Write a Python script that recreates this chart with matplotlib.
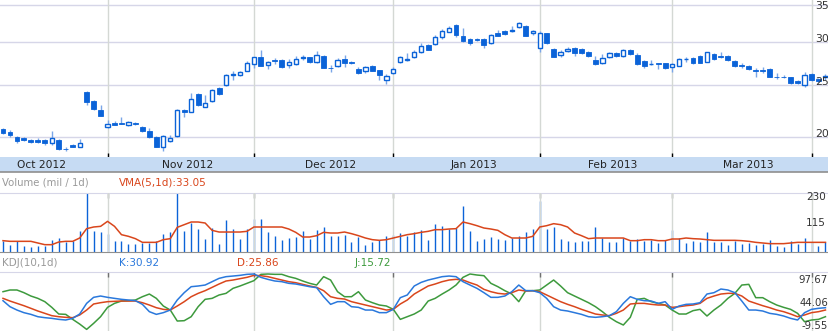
import matplotlib.pyplot as plt
import matplotlib.transforms as mtransforms
import numpy as np

# trading-day index of the first session of each month (Oct 2012 .. Apr 2013)
month_starts = [-6, 15, 36, 56, 77, 96, 116]
month_labels = ['Oct 2012', 'Nov 2012', 'Dec 2012', 'Jan 2013', 'Feb 2013', 'Mar 2013']

opens = [20.72, 20.49, 20.03, 19.97, 19.80, 19.80, 19.75, 19.50, 19.77, 19.07,
         19.39, 19.22, 24.25, 23.34, 22.45, 20.87, 21.28, 21.25, 21.11, 21.25,
         20.93, 20.55, 20.03, 19.17, 19.69, 20.12, 22.45, 22.32, 24.04, 22.77,
         23.30, 24.66, 24.94, 26.02, 26.02, 26.54, 27.26, 28.08, 27.14, 27.72,
         27.76, 27.14, 27.26, 28.00, 28.08, 27.57, 28.28, 26.87, 27.03, 27.84,
         27.57, 26.72, 26.54, 27.03, 26.57, 25.55, 26.24, 27.49, 27.76, 28.08,
         28.68, 29.54, 29.67, 30.65, 31.30, 32.20, 30.69, 30.30, 30.30, 30.34,
         29.79, 31.17, 31.39, 31.44, 31.88, 32.06, 31.08, 29.17, 31.08, 29.09,
         28.32, 28.80, 29.17, 29.05, 28.72, 27.76, 27.37, 28.08, 28.64, 28.28,
         28.96, 28.36, 27.61, 27.26, 27.45, 27.37, 26.91, 27.10, 27.88, 27.96,
         28.24, 27.57, 28.48, 28.20, 28.28, 27.61, 27.14, 27.10, 26.65, 26.65,
         26.72, 25.88, 25.88, 25.80, 25.37, 24.94, 26.13, 25.60, 25.80]
highs = [20.84, 20.63, 20.12, 20.06, 19.89, 19.94, 19.83, 20.55, 19.83, 19.22,
         19.44, 19.83, 24.38, 23.44, 22.94, 21.52, 21.46, 21.77, 21.46, 21.35,
         20.99, 20.78, 20.12, 20.20, 20.17, 22.58, 22.58, 24.11, 24.11, 23.93,
         24.59, 24.73, 26.17, 26.54, 26.54, 27.61, 28.16, 28.96, 27.64, 28.04,
         27.84, 27.92, 28.24, 28.36, 28.16, 28.84, 28.36, 27.14, 27.96, 28.36,
         27.68, 26.91, 27.06, 27.22, 26.65, 26.17, 26.99, 28.24, 28.56, 28.96,
         29.79, 29.67, 30.82, 31.61, 32.06, 32.29, 31.79, 30.43, 30.43, 30.43,
         30.99, 31.57, 31.57, 32.02, 32.61, 32.15, 31.53, 31.44, 31.17, 29.21,
         28.96, 29.29, 29.29, 29.21, 28.84, 28.24, 28.44, 28.68, 28.76, 29.09,
         29.09, 28.64, 27.76, 27.76, 27.47, 27.45, 27.37, 28.00, 28.08, 28.16,
         28.32, 28.76, 28.56, 28.68, 28.36, 27.72, 27.45, 27.18, 26.84, 26.91,
         26.80, 26.24, 26.02, 25.88, 25.51, 26.39, 26.24, 25.75, 26.17]
lows = [20.29, 20.06, 19.50, 19.66, 19.50, 19.50, 19.39, 19.39, 18.96, 18.88,
        19.17, 19.17, 22.90, 22.51, 21.89, 20.81, 21.05, 21.14, 20.99, 21.11,
        20.46, 19.94, 19.17, 18.91, 19.61, 20.00, 21.77, 22.26, 22.84, 22.71,
        23.23, 23.93, 24.87, 25.51, 25.95, 26.46, 26.80, 27.03, 26.69, 27.30,
        26.87, 26.87, 27.14, 27.76, 27.45, 27.45, 26.80, 26.35, 26.95, 26.99,
        27.26, 26.20, 26.28, 26.46, 25.55, 25.11, 26.13, 27.37, 27.68, 28.00,
        28.56, 28.96, 29.58, 30.39, 31.21, 30.65, 29.96, 29.62, 30.05, 29.25,
        29.71, 30.73, 30.91, 31.26, 31.79, 30.73, 30.91, 28.76, 29.71, 28.08,
        28.08, 28.72, 28.28, 28.44, 28.16, 27.18, 27.30, 28.00, 28.16, 28.16,
        28.40, 27.22, 26.87, 27.14, 26.72, 26.76, 26.39, 27.03, 27.53, 27.26,
        27.37, 27.49, 27.76, 28.00, 27.68, 26.99, 26.87, 26.61, 25.88, 26.28,
        25.80, 25.66, 25.70, 25.08, 25.08, 24.80, 25.40, 25.30, 25.51]
closes = [20.41, 20.20, 19.69, 19.75, 19.58, 19.58, 19.50, 19.97, 19.01, 19.03,
          19.22, 19.55, 23.26, 22.58, 21.92, 21.17, 21.11, 21.19, 21.35, 21.17,
          20.52, 20.00, 19.22, 20.12, 19.97, 22.45, 22.23, 23.57, 22.94, 23.10,
          24.45, 24.00, 26.02, 26.13, 26.39, 27.45, 28.08, 27.10, 27.49, 27.68,
          26.99, 27.53, 27.84, 28.12, 27.53, 28.32, 26.87, 26.80, 27.72, 27.45,
          27.37, 26.28, 26.99, 26.54, 26.09, 25.91, 26.69, 28.08, 27.84, 28.76,
          29.46, 29.00, 30.65, 31.44, 31.75, 30.86, 30.09, 29.84, 30.17, 29.62,
          30.86, 30.78, 31.04, 31.53, 32.52, 30.78, 31.39, 31.08, 29.79, 28.16,
          28.76, 29.09, 28.64, 28.56, 28.24, 27.30, 27.96, 28.60, 28.28, 28.96,
          28.48, 27.30, 27.10, 27.30, 27.33, 26.87, 27.26, 27.84, 27.92, 27.45,
          27.45, 28.68, 27.84, 28.08, 27.76, 27.10, 27.03, 26.69, 26.50, 26.50,
          25.88, 25.80, 25.80, 25.15, 25.15, 26.09, 25.51, 25.40, 25.95]

volume = [47.2, 32.4, 47.2, 28.0, 22.1, 28.0, 28.0, 54.5, 61.9, 42.7,
          47.2, 94.3, 300.0, 91.4, 87.0, 80.0, 47.2, 47.2, 36.9, 36.9,
          39.8, 39.8, 50.1, 81.1, 87.0, 290.0, 94.3, 128.2, 101.7, 57.5,
          106.1, 36.9, 143.0, 101.7, 59.0, 103.2, 147.4, 145.9, 87.0, 72.2,
          54.5, 61.9, 64.9, 91.4, 57.5, 95.8, 109.1, 69.3, 72.2, 76.6,
          42.7, 66.3, 32.4, 42.7, 51.6, 69.3, 73.7, 84.0, 69.3, 87.0,
          98.8, 54.5, 123.8, 113.5, 103.2, 106.1, 204.9, 91.4, 50.1, 59.0,
          66.3, 59.0, 51.6, 61.9, 72.2, 87.0, 103.2, 224.0, 101.7, 109.1,
          57.5, 47.2, 42.7, 47.2, 50.1, 110.6, 61.9, 42.7, 42.7, 61.9,
          50.1, 59.0, 47.2, 54.5, 39.8, 51.6, 98.8, 61.9, 39.8, 50.1,
          42.7, 89.9, 42.7, 42.7, 32.4, 47.2, 35.4, 39.8, 32.4, 36.9,
          53.1, 28.0, 22.1, 47.2, 35.4, 61.9, 42.7, 28.0, 42.7]
vma = [50.1, 47.2, 47.2, 47.2, 47.2, 39.8, 32.4, 32.4, 44.2, 47.2,
       47.2, 61.9, 103.2, 110.6, 113.5, 135.6, 113.5, 76.6, 69.3, 59.0,
       42.7, 42.7, 42.7, 54.5, 59.0, 109.1, 120.9, 132.7, 132.7, 128.2,
       95.8, 88.4, 88.4, 88.4, 88.4, 91.4, 110.6, 110.6, 110.6, 110.6,
       110.6, 101.7, 87.0, 66.3, 66.3, 72.2, 87.0, 84.0, 84.0, 88.4,
       81.1, 72.2, 61.9, 54.5, 51.6, 54.5, 61.9, 69.3, 76.6, 81.1,
       87.0, 91.4, 98.8, 98.8, 101.7, 103.2, 132.7, 125.3, 116.4, 106.1,
       101.7, 95.8, 76.6, 61.9, 61.9, 61.9, 69.3, 110.6, 116.4, 125.3,
       120.9, 110.6, 84.0, 72.2, 59.0, 61.9, 61.9, 61.9, 61.9, 61.9,
       50.1, 50.1, 54.5, 54.5, 50.1, 50.1, 57.5, 57.5, 61.9, 59.0,
       57.5, 54.5, 51.6, 51.6, 51.6, 51.6, 50.1, 47.2, 42.7, 39.8,
       36.9, 36.9, 36.9, 39.8, 42.7, 42.7, 42.7, 42.7, 42.7]

k_line = [56.6, 42.5, 34.6, 28.4, 24.4, 18.9, 16.6, 15.0, 12.6, 11.1,
          15.0, 25.2, 50.3, 64.5, 67.6, 64.5, 62.1, 59.8, 58.2, 56.6,
          48.0, 30.7, 24.4, 28.4, 34.6, 58.2, 75.5, 89.6, 91.2, 93.5,
          101.4, 109.2, 113.2, 114.7, 116.3, 118.7, 119.5, 111.6, 106.9, 103.0,
          101.4, 97.5, 95.9, 92.8, 89.6, 87.3, 66.0, 48.0, 54.3, 54.3,
          42.5, 40.9, 34.6, 34.6, 28.4, 28.4, 36.2, 63.7, 70.0, 91.2,
          99.8, 105.3, 109.2, 113.2, 114.7, 113.2, 101.4, 93.5, 85.7, 75.5,
          64.5, 64.5, 67.6, 77.8, 93.5, 80.2, 80.2, 75.5, 62.1, 42.5,
          34.6, 32.3, 28.4, 24.4, 18.9, 17.4, 18.9, 21.3, 30.7, 50.3,
          66.0, 59.8, 56.6, 55.8, 50.3, 54.3, 36.2, 44.1, 48.0, 48.8,
          51.9, 72.3, 75.5, 84.1, 81.8, 75.5, 55.8, 34.6, 34.6, 32.3,
          26.8, 24.4, 20.5, 15.0, 11.1, 28.4, 36.2, 38.6, 40.1]
d_line = [62.1, 55.8, 50.3, 44.8, 38.6, 32.3, 26.8, 21.3, 18.9, 17.4,
          16.6, 22.9, 34.6, 48.8, 51.9, 54.3, 55.1, 55.8, 55.8, 55.8,
          51.9, 46.4, 40.1, 36.2, 34.6, 44.1, 54.3, 66.0, 73.9, 80.2,
          88.0, 95.9, 103.0, 105.3, 108.5, 111.6, 116.3, 115.5, 113.2, 109.2,
          105.3, 101.4, 99.0, 95.1, 91.2, 88.0, 80.2, 66.0, 62.1, 60.5,
          54.3, 50.3, 46.4, 42.5, 38.6, 34.6, 36.2, 48.8, 58.2, 72.3,
          81.8, 91.2, 95.9, 101.4, 105.3, 106.9, 105.3, 99.0, 93.5, 83.3,
          77.8, 73.9, 72.3, 75.5, 81.8, 79.4, 80.2, 77.8, 70.0, 62.1,
          54.3, 48.0, 42.5, 36.2, 30.7, 25.2, 22.9, 21.3, 26.8, 34.6,
          48.8, 50.3, 50.3, 48.0, 46.4, 46.4, 40.9, 42.5, 44.8, 46.4,
          50.3, 62.1, 67.6, 72.3, 73.9, 73.9, 67.6, 55.8, 50.3, 44.8,
          40.1, 34.6, 30.7, 25.2, 18.9, 22.9, 28.4, 30.7, 34.6]
j_line = [77.8, 81.8, 81.8, 75.5, 67.6, 62.1, 54.3, 40.9, 25.2, 24.4,
          12.6, 1.6, -11.0, 3.2, 18.9, 40.9, 50.3, 55.8, 56.6, 58.2,
          66.0, 72.3, 62.1, 44.1, 34.6, 8.7, 9.5, 18.9, 42.5, 59.8,
          62.1, 70.0, 73.9, 85.7, 91.2, 97.5, 103.8, 118.7, 119.5, 118.7,
          118.7, 113.2, 109.2, 103.0, 97.5, 93.5, 113.2, 105.3, 77.8, 66.0,
          66.0, 77.8, 58.2, 51.9, 46.4, 44.1, 36.2, 12.6, 18.9, 25.2,
          34.6, 55.8, 62.1, 72.3, 81.8, 93.5, 111.6, 119.5, 117.1, 115.5,
          97.5, 89.6, 80.2, 72.3, 54.3, 80.2, 80.2, 81.8, 93.5, 105.3,
          91.2, 75.5, 67.6, 59.8, 51.9, 42.5, 30.7, 17.4, 7.1, -0.7,
          17.4, 59.8, 62.1, 54.3, 50.3, 46.4, 34.6, 25.2, 25.2, 33.1,
          36.2, 20.5, 34.6, 46.4, 62.1, 73.9, 93.5, 95.1, 63.7, 63.7,
          54.3, 46.4, 40.9, 36.2, 26.8, 7.1, 11.1, 12.6, 18.9]

price_ticks = [20, 25, 30, 35]
vol_ticks = [115, 230]
kdj_ticks = [97.67, 44.06, -9.55]

BLUE = '#0b63d8'
WICK = '#7aa6e8'
RED = '#d9461c'
GREEN = '#3d9a3d'
GRID_H = '#d6d6e8'
GRID_V = '#d4d8d4'

W, H = 829, 331
fig = plt.figure(figsize=(W / 100, H / 100), dpi=100)


def add_ax(top, bottom):
    return fig.add_axes([0, 1 - bottom / H, 1, (bottom - top) / H])


x = np.arange(len(opens))
o = np.array(opens)
h = np.array(highs)
l = np.array(lows)
c = np.array(closes)
up = c >= o
xlim = (-3 / 6.97, 826 / 6.97)
bounds = [m for m in month_starts if xlim[0] < m < xlim[1]]

# price panel
ax = add_ax(0, 157)
ax.set_yscale('log')
ax.set_xlim(xlim)
ax.set_ylim(18.41, 35.8)
for v in price_ticks:
    ax.axhline(v, color=GRID_H, lw=1, zorder=0)
for m in bounds:
    ax.axvline(m, color=GRID_V, lw=1, zorder=0)
ax.vlines(x, l, h, color=WICK, lw=1, zorder=2)
ax.bar(x[~up], (o - c)[~up], bottom=c[~up], width=0.7, color=BLUE,
       edgecolor=BLUE, lw=0.6, zorder=3)
ax.bar(x[up], (c - o)[up], bottom=o[up], width=0.62, facecolor='white',
       edgecolor=BLUE, lw=1.0, zorder=3)
ax.set_xticks(bounds)
ax.yaxis.set_major_locator(plt.NullLocator())
ax.yaxis.set_minor_locator(plt.NullLocator())
ax.tick_params(axis='x', direction='in', length=3, width=1, color='black',
               labelbottom=False, pad=0)
for s in ax.spines.values():
    s.set_visible(False)
ytrans = ax.get_yaxis_transform()
for v in price_ticks:
    # the top label would be clipped at the figure edge, nudge it down a bit
    tr = ytrans if v < 35 else mtransforms.offset_copy(ytrans, fig=fig, y=-3.5, units='dots')
    ax.text(815 / W, v, str(v), transform=tr,
            fontsize=7.8, color='#333333', va='baseline', ha='left', zorder=5)

# month band
band = add_ax(157, 172)
band.set_facecolor('#c6dbf3')
band.set_xlim(xlim)
band.set_ylim(0, 1)
band.set_xticks([])
band.set_yticks([])
for s in ['top', 'left', 'right']:
    band.spines[s].set_visible(False)
band.spines['bottom'].set_color('#8f8f8f')
band.spines['bottom'].set_linewidth(1.2)
for i, name in enumerate(month_labels):
    mid = (month_starts[i] + month_starts[i + 1]) / 2 + 1
    band.text(mid, 0.5, name, ha='center', va='center', fontsize=7.7,
              color='#222222')

# volume panel
fig.text(2 / W, 1 - 183 / H, 'Volume (mil / 1d)', fontsize=7.3,
         color='#9a9a9a', va='center')
fig.text(119 / W, 1 - 183 / H, 'VMA(5,1d):33.05', fontsize=7.5, color=RED,
         va='center')
axv = add_ax(193, 252)
axv.set_xlim(xlim)
axv.set_ylim(0, 261)
for m in bounds:
    axv.axvline(m, color=GRID_V, lw=1, zorder=3)
axv.vlines(x, 0, volume, color=BLUE, lw=1, zorder=2)
axv.plot(x, vma, color=RED, lw=1.1, zorder=4)
axv.set_xticks(bounds)
axv.set_yticks([])
axv.xaxis.set_ticks_position('top')
axv.tick_params(axis='x', direction='in', length=3.5, width=1, color='#707070',
                labeltop=False, labelbottom=False)
axv.spines['left'].set_visible(False)
axv.spines['right'].set_visible(False)
axv.spines['top'].set_color(GRID_H)
axv.spines['bottom'].set_color('#8f8f8f')
for v in vol_ticks:
    axv.text(826 / W, v, str(v), transform=axv.get_yaxis_transform(),
             fontsize=7.5, color='#333333', va='baseline', ha='right', zorder=5)

# KDJ panel
fig.text(2 / W, 1 - 262.5 / H, 'KDJ(10,1d)', fontsize=7.5, color='#9a9a9a',
         va='center')
fig.text(119 / W, 1 - 262.5 / H, 'K:30.92', fontsize=7.5, color='#2a78dc',
         va='center')
fig.text(237 / W, 1 - 262.5 / H, 'D:25.86', fontsize=7.5, color=RED,
         va='center')
fig.text(355 / W, 1 - 262.5 / H, 'J:15.72', fontsize=7.5, color=GREEN,
         va='center')
axk = add_ax(272, 331)
axk.set_xlim(xlim)
axk.set_ylim(-14.8, 124.2)
for m in bounds:
    axk.axvline(m, color=GRID_V, lw=1, zorder=1)
axk.plot(x, j_line, color=GREEN, lw=1.1, zorder=2)
axk.plot(x, d_line, color=RED, lw=1.1, zorder=3)
axk.plot(x, k_line, color='#2a78dc', lw=1.1, zorder=3)
axk.set_xticks(bounds)
axk.set_yticks([])
axk.xaxis.set_ticks_position('top')
axk.tick_params(axis='x', direction='in', length=3.5, width=1, color='#707070',
                labeltop=False, labelbottom=False)
for s in ['left', 'right', 'bottom']:
    axk.spines[s].set_visible(False)
axk.spines['top'].set_color(GRID_H)
for v in kdj_ticks:
    axk.text(828 / W, v, f'{v:.2f}', transform=axk.get_yaxis_transform(),
             fontsize=7.3, color='#333333', va='baseline', ha='right', zorder=5)

fig.savefig('out.png', dpi=100)
